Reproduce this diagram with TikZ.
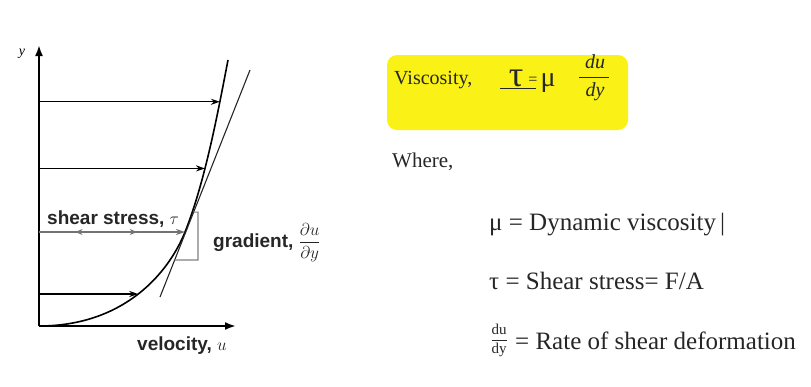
\documentclass[tikz,border=0pt]{standalone}
\usepackage{fontspec}
\setmainfont{Liberation Serif}
\setsansfont{Liberation Sans}
\usetikzlibrary{positioning, calc, arrows.meta, decorations.markings}
\definecolor{markyellow}{RGB}{250,242,22}
\definecolor{inkgray}{RGB}{38,38,38}

\begin{document}
\begin{tikzpicture}[x=1pt, y=-1pt,
        axis/.style={line width=2pt, -{Latex[length=11pt, width=8pt]}},
        flow/.style={line width=1.4pt, -{Stealth[length=9pt, width=6pt]}},
        shearflow/.style={line width=2pt, black!55, -{Stealth[length=9pt, width=6pt]},
            postaction={decorate, decoration={markings,
                mark=at position 0.25 with {\arrowreversed{Stealth[length=7pt, width=6pt]}},
                mark=at position 0.67 with {\arrow{Stealth[length=7pt, width=6pt]}}}}},
        profile/.style={line width=1.6pt},
        tangent/.style={line width=1.1pt, black!85},
        bracket/.style={line width=1.1pt, gray},
        plotlabel/.style={font=\sffamily\bfseries\fontsize{19}{22}\selectfont, text=inkgray, inner sep=0pt},
        eqtext/.style={font=\fontsize{25}{28}\selectfont, text=inkgray, inner sep=0pt}
    ]
    \useasboundingbox (0,0) rectangle (811,386);

    % Velocity profile
    \coordinate (O) at (39,326);
    \coordinate (ytop) at (39,45);
    \coordinate (xend) at (236,326);
    \coordinate (c3) at (185,232);
    \coordinate (ptop) at (228,60);
    \draw[axis] (O) -- (ytop);
    \draw[axis] (O) -- (xend);
    \draw[profile] (O) .. controls (125,326) and (169,272) .. (c3) coordinate[pos=0.5] (c4)
        .. controls (205,182) and (218,112) .. (ptop) coordinate[pos=0.38] (c2) coordinate[pos=0.75] (c1);

    % Flow arrows
    \draw[flow] (O |- c1) -- (c1);
    \draw[flow] (O |- c2) -- (c2);
    \draw[shearflow] (O |- c3) -- (c3);
    \draw[flow] (O |- c4) -- (c4);

    % Tangent and gradient
    \coordinate (tanA) at (160,297);
    \coordinate (tanB) at (250,70);
    \coordinate (gcorner) at (198,260);
    \draw[tangent] (tanA) -- (tanB);
    \draw[bracket] ($(tanA)!0.374!(tanB)$) -| (gcorner) -- ($(tanA)!0.163!(tanB)$);

    % Plot labels
    \node[font=\itshape\fontsize{14}{16}\selectfont, inner sep=0pt, anchor=base] (ylbl) at (22,55) {y};
    \node[plotlabel, anchor=base west] (shearlbl) at (47,224) {shear stress, $\tau$};
    \node[plotlabel, anchor=base west] (gradlbl) at (213,247) {gradient, $\displaystyle\frac{\partial u}{\partial y}$};
    \node[plotlabel, anchor=base west] (vellbl) at (137,350) {velocity, $u$};

    % Definition
    \fill[markyellow, rounded corners=10pt] (387,55) rectangle (628,130);
    \node[font=\fontsize{20}{24}\selectfont, text=inkgray, inner sep=0pt, anchor=base west] (visc) at (394,84) {Viscosity,};
    \draw[inkgray, line width=0.8pt] (500,88) -- (536,88);
    \node[font=\fontsize{36}{40}\selectfont, text=inkgray, inner sep=0pt, anchor=base] (tau) at (516,86) {τ};
    \node[font=\fontsize{16}{18}\selectfont, text=inkgray, inner sep=0pt, anchor=base] (eqs) at (533,84) {=};
    \node[font=\fontsize{28}{30}\selectfont, text=inkgray, inner sep=0pt, anchor=base] (mu) at (548,86) {μ};
    \node[font=\fontsize{20}{24}\selectfont, text=inkgray, inner sep=0pt] (dudy) at (594,78)
        {$\displaystyle\frac{\mbox{\hspace{6pt}\itshape du\hspace{4pt}}}{\mbox{\hspace{6pt}\itshape dy\hspace{4pt}}}$};

    \node[font=\fontsize{21}{24}\selectfont, text=inkgray, inner sep=0pt, anchor=base west] (where) at (392,167) {Where,};

    \node[eqtext, anchor=base west] (mudef) at (489,230) {μ = Dynamic viscosity\,|};
    \node[eqtext, anchor=base west] (taudef) at (489,289) {τ = Shear stress= F/A};
    \node[eqtext, anchor=base west] (ratedef) at (515,349) {= Rate of shear deformation};
    \node[font=\fontsize{15}{18}\selectfont, text=inkgray, inner sep=0pt, left=7pt of ratedef] (dudydef)
        {$\displaystyle\frac{\mbox{du}}{\mbox{dy}}$};
\end{tikzpicture}
\end{document}
